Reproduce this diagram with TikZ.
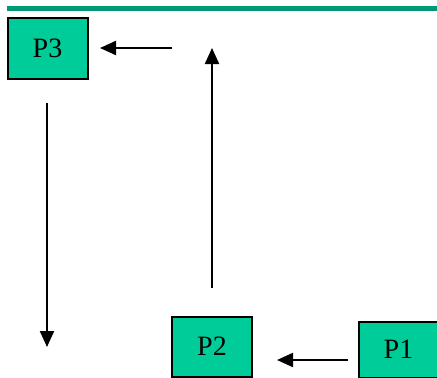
\documentclass[tikz,border=0pt]{standalone}
\usepackage{fontspec}
\setmainfont{Liberation Serif}
\usetikzlibrary{arrows.meta}
\definecolor{boxgreen}{HTML}{00CC99}
\definecolor{linegreen}{HTML}{009977}
\tikzset{
  pbox/.style={draw=black, line width=2pt, fill=boxgreen, inner sep=0pt, font=\fontsize{28}{32}\selectfont},
  flow/.style={line width=2.2pt, -{Triangle[length=16pt,width=14pt]}}
}
\begin{document}
\begin{tikzpicture}[x=1pt,y=-1pt]
\useasboundingbox (0,0) rectangle (437,378);
\fill[linegreen] (7,6) rectangle (437,11);
\node[pbox, minimum width=80pt, minimum height=61pt] (p3) at (47.5,48) {P3};
\node[pbox, minimum width=80pt, minimum height=60pt] (p2) at (212,346.5) {P2};
\node[pbox, minimum width=80pt, minimum height=56pt, anchor=north west] (p1) at (357.5,320.5) {P1};
\coordinate (a1s) at (348,360);
\coordinate (a1e) at (277,360);
\coordinate (a2s) at (212,288);
\coordinate (a2e) at (212,48);
\coordinate (a3s) at (172,48);
\coordinate (a3e) at (100,48);
\coordinate (a4s) at (47,103);
\coordinate (a4e) at (47,347);
\draw[flow] (a1s) -- (a1e);
\draw[flow] (a2s) -- (a2e);
\draw[flow] (a3s) -- (a3e);
\draw[flow] (a4s) -- (a4e);
\end{tikzpicture}
\end{document}
